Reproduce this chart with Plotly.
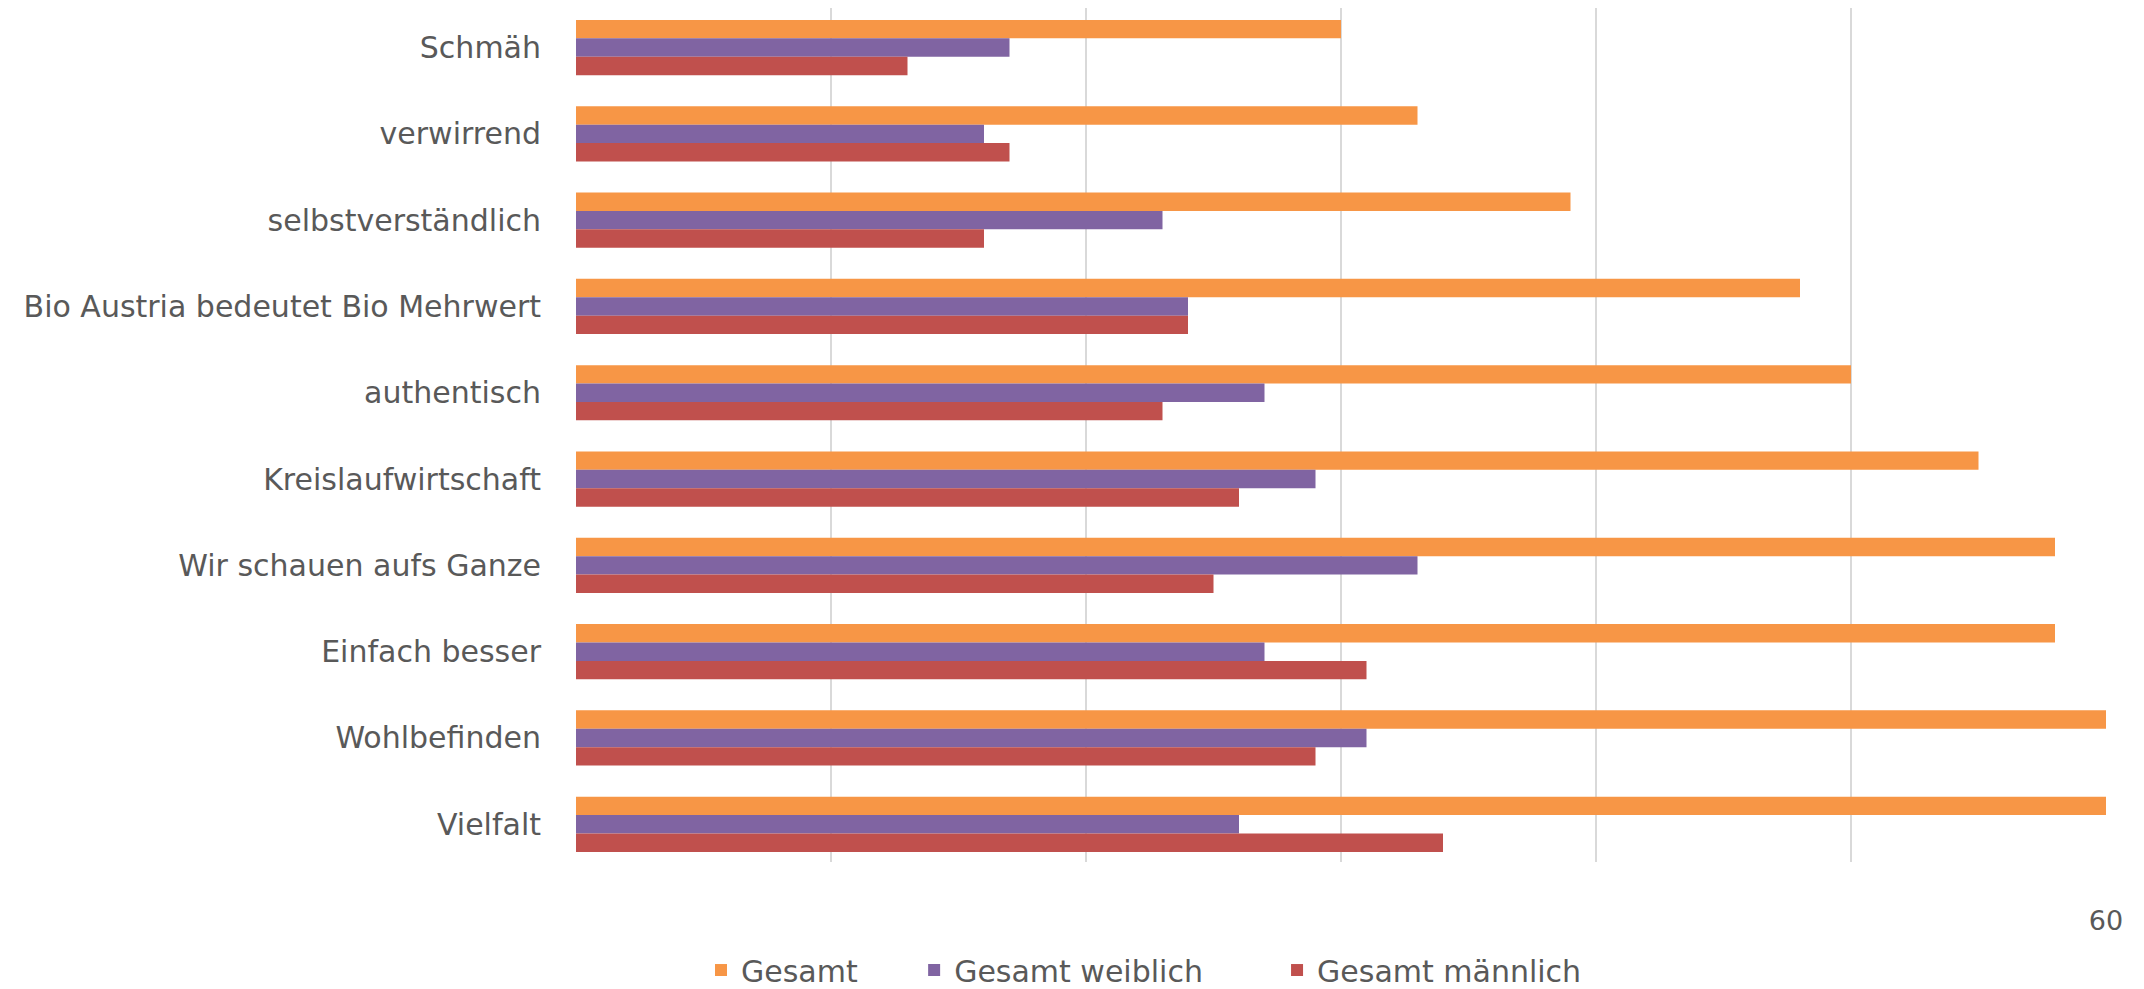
import plotly.graph_objects as go

categories = ["Schmäh", "verwirrend", "selbstverständlich", "Bio Austria bedeutet Bio Mehrwert",
              "authentisch", "Kreislaufwirtschaft", "Wir schauen aufs Ganze", "Einfach besser",
              "Wohlbefinden", "Vielfalt"]
gesamt = [30, 33, 39, 48, 50, 55, 58, 58, 60, 60]
gesamt_weiblich = [17, 16, 23, 24, 27, 29, 33, 27, 31, 26]
gesamt_maennlich = [13, 17, 16, 24, 23, 26, 25, 31, 29, 34]

tick_vals = [0, 10, 20, 30, 40, 50, 60]
tick_text = ["", "", "", "", "", "", "60"]

series = [
    ("Gesamt", gesamt, "#F79646", "legend", 0.0817),
    ("Gesamt weiblich", gesamt_weiblich, "#8064A2", "legend2", 0.2210),
    ("Gesamt männlich", gesamt_maennlich, "#C0504D", "legend3", 0.4582),
]

FONT = "DejaVu Sans"
TXT = "#595959"

fig = go.Figure()
legends = {}
for name, vals, col, leg, lx in series:
    fig.add_trace(go.Bar(y=categories, x=vals, name=name, orientation="h",
                         marker=dict(color=col, line=dict(width=0)), legend=leg))
    legends[leg] = dict(orientation="h", x=lx, xanchor="left", y=-0.1265, yanchor="middle",
                        font=dict(family=FONT, size=30, color=TXT),
                        bgcolor="rgba(0,0,0,0)")

fig.update_layout(
    width=2136, height=981,
    barmode="group", bargap=0.36, bargroupgap=0,
    plot_bgcolor="white", paper_bgcolor="white",
    margin=dict(l=568, r=38, t=0, b=127, autoexpand=False),
    font=dict(family=FONT, size=30, color=TXT),
    showlegend=True,
    **legends,
)
fig.update_xaxes(range=[0, 60], tickvals=tick_vals, ticktext=tick_text,
                 showgrid=True, gridcolor="#D9D9D9", gridwidth=1.5,
                 zeroline=False, showline=False, ticks="",
                 ticklabelstandoff=40,
                 tickfont=dict(family=FONT, size=27, color=TXT))
fig.update_yaxes(range=[9.437, -0.458], showgrid=False, showline=False, zeroline=False,
                 ticks="", ticklabelstandoff=34,
                 tickfont=dict(family=FONT, size=30, color=TXT))

fig.write_html("out.html")
